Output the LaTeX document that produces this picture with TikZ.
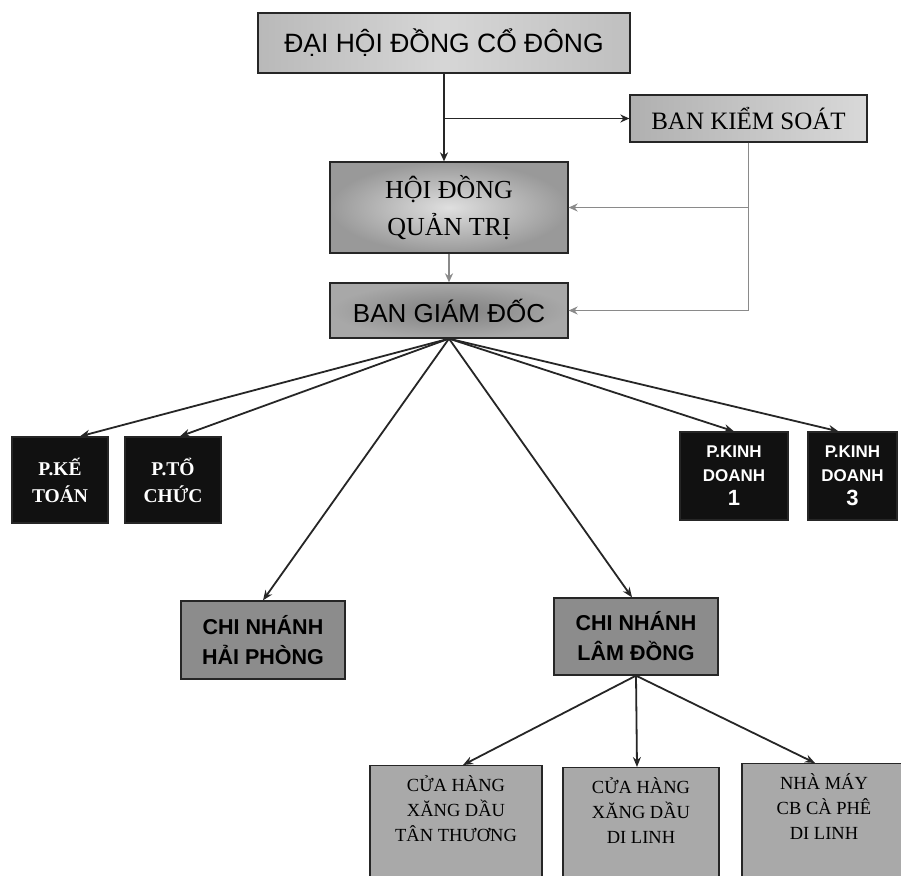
\documentclass[tikz,border=0pt]{standalone}
\usepackage{fontspec}
\setmainfont{Liberation Serif}
\newfontfamily\arial{Liberation Sans}
\usetikzlibrary{arrows.meta}
\definecolor{linedark}{HTML}{262626}
\definecolor{linegray}{HTML}{8A8A8A}
\definecolor{cnfill}{HTML}{8C8C8C}
\definecolor{lowfill}{HTML}{A9A9A9}
\definecolor{blackfill}{HTML}{111111}
\begin{document}
\begin{tikzpicture}[x=1pt,y=-1pt,
  box/.style={draw=linedark, line width=1.3pt, rectangle, inner sep=0pt, align=center},
  topbox/.style={box, left color=gray!55, right color=gray!50, middle color=gray!32},
  bksbox/.style={box, left color=gray!62, right color=gray!30},
  hdbox/.style={box, inner color=gray!25, outer color=gray!80},
  bgdbox/.style={box, inner color=gray!100, outer color=gray!68},
  blackbox/.style={box, fill=blackfill, text=white},
  cnbox/.style={box, fill=cnfill},
  lowbox/.style={box, fill=lowfill, anchor=north, inner xsep=0pt, inner ysep=10pt},
  darrow/.style={draw=linedark, line width=1.5pt, -{Stealth[length=9pt,width=8pt]}},
  garrow/.style={draw=linegray, line width=1.4pt, -{Stealth[length=9pt,width=8pt]}},
  fan/.style={draw=linedark, line width=1.8pt, -{Stealth[length=10pt,width=8pt]}}
]
\useasboundingbox (0,0) rectangle (901,875);
\clip (0,0) rectangle (901,875);
\fill[white] (0,0) rectangle (901,875);

% main boxes
\node[topbox, minimum width=372pt, minimum height=60pt,
  font=\arial\fontsize{26.5}{30}\selectfont] (dh) at (444,43)
  {ĐẠI HỘI ĐỒNG CỔ ĐÔNG};
\node[bksbox, minimum width=237pt, minimum height=47pt,
  font=\fontsize{25}{28}\selectfont] (bks) at (748.5,118.5)
  {BAN KIỂM SOÁT};
\node[hdbox, minimum width=238pt, minimum height=91pt,
  font=\fontsize{26}{37}\selectfont] (hdqt) at (449,207.5)
  {HỘI ĐỒNG\\QUẢN TRỊ};
\node[bgdbox, minimum width=238pt, minimum height=55pt,
  font=\arial\fontsize{26}{28}\selectfont] (bgd) at (449,310.5)
  {BAN GIÁM ĐỐC};

% departments
\node[blackbox, minimum width=96pt, minimum height=86pt,
  font=\bfseries\fontsize{19.5}{27}\selectfont] (pkt) at (60,480)
  {P.KẾ\\TOÁN};
\node[blackbox, minimum width=96pt, minimum height=86pt,
  font=\bfseries\fontsize{19.5}{27}\selectfont] (ptc) at (173,480)
  {P.TỔ\\CHỨC};
\node[blackbox, minimum width=108pt, minimum height=88pt,
  font=\arial\bfseries\fontsize{17}{24}\selectfont] (kd1) at (734,476)
  {P.KINH\\DOANH\\{\fontsize{22}{24}\selectfont 1}};
\node[blackbox, minimum width=89pt, minimum height=88pt,
  font=\arial\bfseries\fontsize{17}{24}\selectfont] (kd3) at (852.5,476)
  {P.KINH\\DOANH\\{\fontsize{22}{24}\selectfont 3}};

% branches
\node[cnbox, minimum width=164pt, minimum height=78pt,
  font=\arial\bfseries\fontsize{21.5}{30}\selectfont] (cnhp) at (263,640)
  {CHI NHÁNH\\HẢI PHÒNG};
\node[cnbox, minimum width=164pt, minimum height=77pt,
  font=\arial\bfseries\fontsize{21.5}{30}\selectfont] (cnld) at (636,636.5)
  {CHI NHÁNH\\LÂM ĐỒNG};

% lower units
\node[lowbox, minimum width=172pt, text depth=50pt,
  font=\fontsize{18.5}{25}\selectfont] (b1) at (456,765)
  {CỬA HÀNG\\XĂNG DẦU\\TÂN THƯƠNG};
\node[lowbox, minimum width=156pt, text depth=50pt,
  font=\fontsize{18.5}{25}\selectfont] (b2) at (641,767)
  {CỬA HÀNG\\XĂNG DẦU\\DI LINH};
\node[lowbox, minimum width=164pt, text depth=50pt,
  font=\fontsize{18.5}{25}\selectfont] (b3) at (824,763)
  {NHÀ MÁY\\CB CÀ PHÊ\\DI LINH};

% connectors top
\draw[darrow] (dh.south) -- (dh.south |- hdqt.north);
\coordinate (jn) at (dh.south |- bks.west);
\draw[darrow] (jn) -- (bks.west);
\draw[garrow] (bks.south) |- (hdqt.east);
\draw[garrow] (bks.south) |- (bgd.east);
\draw[garrow] (hdqt.south) -- (bgd.north);

% fan
\draw[fan] (bgd.south) -- ([xshift=20pt]pkt.north);
\draw[fan] (bgd.south) -- ([xshift=7pt]ptc.north);
\draw[fan] (bgd.south) -- (cnhp.north);
\draw[fan] (bgd.south) -- ([xshift=-4pt]cnld.north);
\draw[fan] (bgd.south) -- (kd1.north);
\draw[fan] (bgd.south) -- ([xshift=-14pt]kd3.north);

% lower fan
\draw[fan] (cnld.south) -- ([xshift=7pt]b1.north);
\draw[fan] (cnld.south) -- ([xshift=-4pt]b2.north);
\draw[fan] (cnld.south) -- ([xshift=-9pt]b3.north);
\end{tikzpicture}
\end{document}
